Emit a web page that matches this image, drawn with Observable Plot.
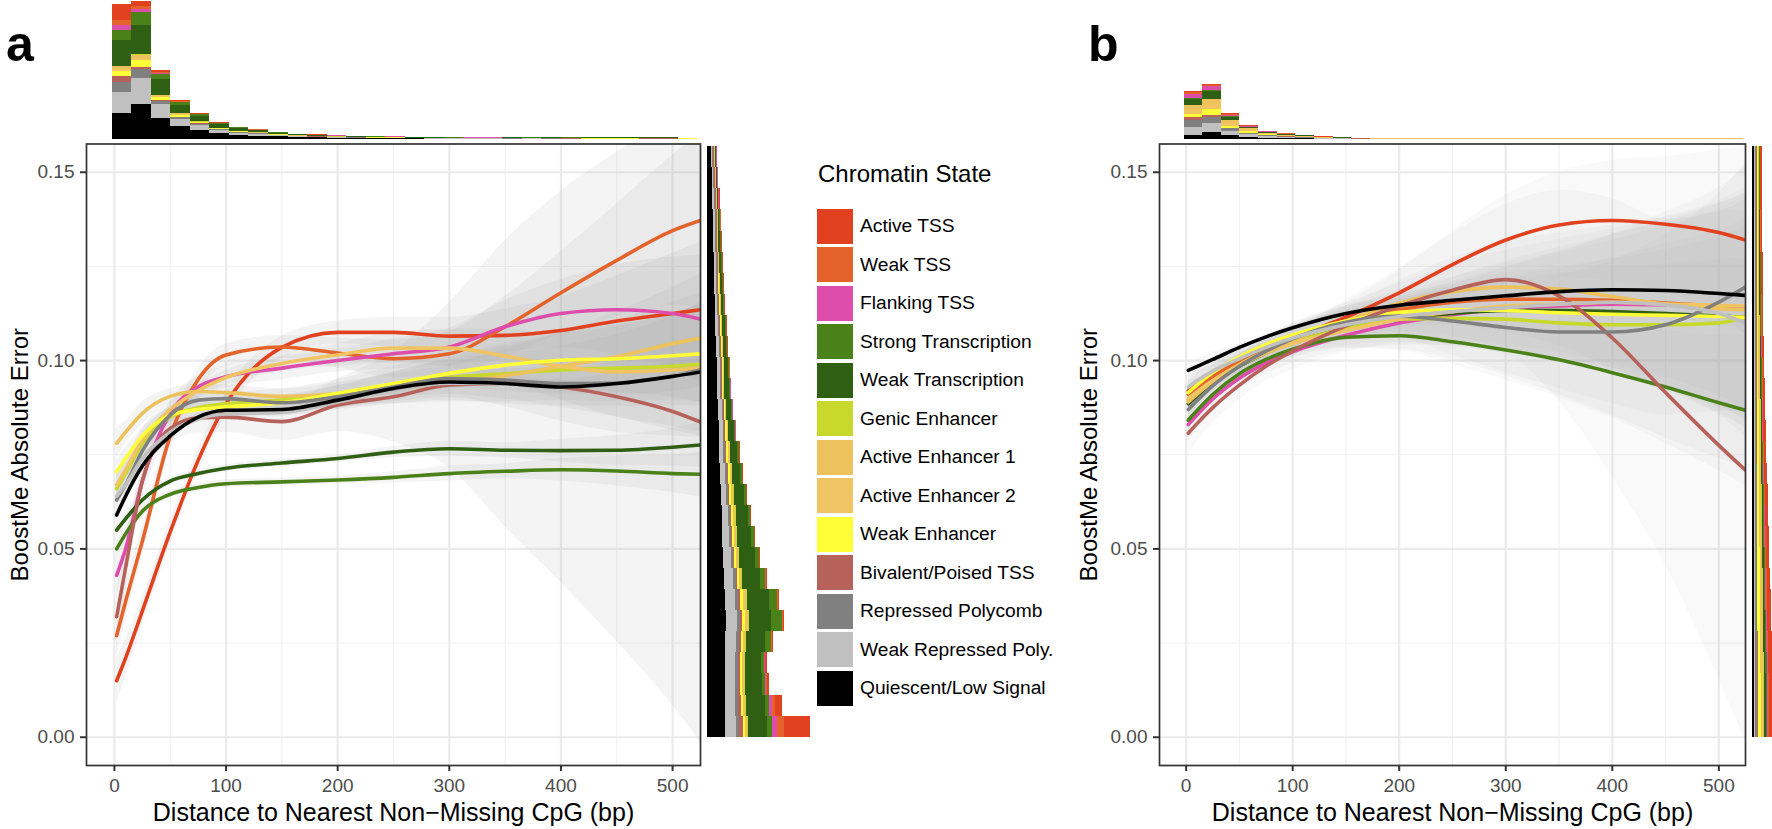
<!DOCTYPE html>
<html><head><meta charset="utf-8">
<script src="https://cdn.jsdelivr.net/npm/d3@7"></script>
<script src="https://cdn.jsdelivr.net/npm/@observablehq/plot@0.6"></script>
<style>
body{margin:0;background:#fff;}
#root{position:relative;width:1772px;height:829px;overflow:hidden;font-family:"Liberation Sans",Arial,Helvetica,sans-serif;}
#root svg{position:absolute;}
.plabel{position:absolute;font-weight:bold;font-size:50px;line-height:1;color:#000;}
#legend{position:absolute;left:817px;top:162px;}
#legend .ttl{font-size:24px;line-height:1;color:#000;margin-left:1px;height:45px;}
#legend .row{display:flex;align-items:center;height:38.5px;}
#legend .key{width:36px;height:35px;margin-right:7px;}
#legend .lab{font-size:19.2px;color:#000;}
</style></head><body><div id="root"></div><script>
// ---------------- DATA ----------------
const states = ["Active TSS","Weak TSS","Flanking TSS","Strong Transcription","Weak Transcription","Genic Enhancer","Active Enhancer 1","Active Enhancer 2","Weak Enhancer","Bivalent/Poised TSS","Repressed Polycomb","Weak Repressed Poly.","Quiescent/Low Signal"];
const stateColors = ["#E2411F","#E4632A","#DE4DAB","#4B8119","#2F5F13","#C8D92C","#EDC15B","#F0C462","#FFFF38","#B6625B","#808080","#C0C0C0","#000000"];

const xTicks = [0,100,200,300,400,500];
const xMinor = [50,150,250,350,450];
const yTicks = [0,0.05,0.10,0.15];
const yMinor = [0.025,0.075,0.125];

// smoothed-curve knots (distance, bp)
const knots = [2,10,25,50,75,100,150,200,250,300,350,400,450,500,525];

// panel a: fitted error per state (rows in legend order)
const meanA = [
 [0.015,0.021,0.0335,0.0545,0.0735,0.0885,0.1035,0.1075,0.1075,0.1065,0.1067,0.108,0.1105,0.1125,0.1135],
 [0.027,0.036,0.052,0.080,0.095,0.1015,0.1036,0.102,0.1005,0.1018,0.109,0.118,0.1266,0.1345,0.1372],
 [0.043,0.050,0.068,0.086,0.093,0.0957,0.098,0.100,0.1018,0.1036,0.109,0.1125,0.1135,0.1125,0.111],
 [0.050,0.054,0.060,0.0645,0.0663,0.0673,0.0678,0.0683,0.069,0.070,0.0706,0.071,0.0707,0.070,0.0698],
 [0.055,0.058,0.063,0.068,0.070,0.0714,0.0728,0.074,0.0757,0.0766,0.0762,0.0761,0.0762,0.077,0.0776],
 [0.066,0.070,0.078,0.085,0.0875,0.0885,0.0895,0.091,0.0935,0.0955,0.0965,0.0975,0.098,0.0985,0.099],
 [0.078,0.081,0.086,0.0905,0.0918,0.0915,0.0905,0.0912,0.0925,0.094,0.096,0.0985,0.101,0.1045,0.106],
 [0.067,0.071,0.079,0.087,0.092,0.0955,0.0992,0.1015,0.1033,0.1033,0.1012,0.0985,0.097,0.0975,0.098],
 [0.0705,0.074,0.080,0.0855,0.087,0.0877,0.0888,0.0913,0.0939,0.0966,0.0988,0.1001,0.1005,0.1013,0.1018],
 [0.032,0.045,0.068,0.082,0.0848,0.085,0.0838,0.0882,0.0904,0.0935,0.0939,0.093,0.0904,0.0865,0.0837],
 [0.063,0.067,0.076,0.0855,0.0895,0.0899,0.0888,0.0904,0.093,0.0952,0.0948,0.0939,0.094,0.096,0.0975],
 [0.064,0.067,0.074,0.081,0.0845,0.0858,0.0862,0.089,0.092,0.094,0.0938,0.093,0.0938,0.096,0.097],
 [0.059,0.064,0.072,0.080,0.085,0.0868,0.0870,0.0895,0.0926,0.0943,0.0939,0.093,0.0939,0.0958,0.097]
];
// panel a: half-width of the confidence band
const ciA = [
 [0.006,0.005,0.004,0.003,0.003,0.003,0.003,0.003,0.004,0.005,0.007,0.009,0.012,0.016,0.018],
 [0.006,0.005,0.004,0.003,0.003,0.003,0.003,0.004,0.005,0.006,0.008,0.011,0.015,0.020,0.023],
 [0.005,0.004,0.003,0.003,0.003,0.003,0.003,0.003,0.004,0.005,0.007,0.009,0.012,0.015,0.017],
 [0.002,0.002,0.0015,0.001,0.001,0.001,0.001,0.001,0.0015,0.002,0.002,0.003,0.004,0.005,0.006],
 [0.002,0.002,0.0015,0.001,0.001,0.001,0.001,0.001,0.0015,0.002,0.002,0.003,0.004,0.005,0.006],
 [0.005,0.004,0.003,0.003,0.003,0.003,0.003,0.004,0.005,0.006,0.008,0.010,0.013,0.017,0.019],
 [0.004,0.003,0.003,0.002,0.002,0.002,0.002,0.003,0.004,0.005,0.007,0.009,0.012,0.015,0.017],
 [0.004,0.003,0.003,0.002,0.002,0.002,0.002,0.003,0.004,0.005,0.007,0.009,0.012,0.015,0.017],
 [0.003,0.003,0.002,0.002,0.002,0.002,0.002,0.002,0.003,0.004,0.005,0.007,0.009,0.011,0.013],
 [0.008,0.006,0.005,0.004,0.004,0.004,0.005,0.007,0.012,0.022,0.038,0.052,0.065,0.078,0.085],
 [0.003,0.003,0.002,0.002,0.002,0.002,0.002,0.003,0.004,0.005,0.007,0.010,0.013,0.016,0.018],
 [0.002,0.002,0.002,0.001,0.001,0.001,0.001,0.002,0.002,0.003,0.004,0.005,0.006,0.008,0.009],
 [0.001,0.001,0.001,0.001,0.001,0.001,0.001,0.001,0.001,0.0015,0.002,0.002,0.003,0.004,0.004]
];
// panel b: fitted error per state
const meanB = [
 [0.092,0.0935,0.096,0.0998,0.103,0.106,0.1115,0.118,0.1255,0.132,0.136,0.1372,0.1362,0.134,0.132],
 [0.091,0.0928,0.0958,0.100,0.1033,0.106,0.1102,0.1135,0.1155,0.1163,0.1163,0.116,0.1153,0.1145,0.114],
 [0.083,0.0855,0.0898,0.0953,0.0993,0.1023,0.1067,0.110,0.1122,0.1138,0.1145,0.115,0.1148,0.1143,0.114],
 [0.0842,0.0867,0.091,0.0965,0.1003,0.103,0.1062,0.1066,0.105,0.1028,0.1002,0.0968,0.093,0.0888,0.0868],
 [0.0885,0.0905,0.094,0.0985,0.102,0.1047,0.1085,0.111,0.1125,0.1133,0.1133,0.113,0.1125,0.1118,0.1115],
 [0.0895,0.0913,0.0945,0.0988,0.1022,0.1048,0.1085,0.111,0.1112,0.111,0.110,0.1095,0.1095,0.110,0.1115],
 [0.089,0.091,0.0945,0.099,0.1025,0.1055,0.1105,0.1152,0.1183,0.1195,0.119,0.117,0.115,0.1138,0.1135],
 [0.090,0.0917,0.0947,0.0987,0.102,0.1045,0.108,0.111,0.113,0.1145,0.115,0.1155,0.115,0.1147,0.1145],
 [0.0915,0.0935,0.0968,0.101,0.1043,0.1068,0.1105,0.1128,0.1135,0.1133,0.1127,0.1123,0.112,0.1117,0.1115],
 [0.0807,0.0832,0.0875,0.0935,0.0985,0.1025,0.1092,0.1145,0.1187,0.1215,0.1172,0.106,0.0915,0.0775,0.0709],
 [0.087,0.0893,0.0933,0.0985,0.1025,0.1058,0.1102,0.1118,0.1105,0.1088,0.1076,0.1076,0.1095,0.1155,0.1195],
 [0.093,0.0946,0.0972,0.1005,0.1035,0.106,0.1095,0.1117,0.113,0.114,0.115,0.1155,0.1148,0.1125,0.110],
 [0.0974,0.0984,0.1003,0.1035,0.1063,0.1087,0.1125,0.1147,0.1160,0.1172,0.1183,0.1188,0.1186,0.1178,0.1173]
];
const ciB = [
 [0.004,0.004,0.003,0.003,0.003,0.003,0.004,0.006,0.009,0.012,0.014,0.016,0.018,0.022,0.025],
 [0.004,0.004,0.003,0.003,0.003,0.004,0.005,0.007,0.010,0.013,0.016,0.019,0.023,0.028,0.032],
 [0.004,0.004,0.003,0.003,0.003,0.003,0.004,0.006,0.008,0.011,0.014,0.017,0.021,0.026,0.030],
 [0.003,0.003,0.002,0.002,0.002,0.002,0.003,0.004,0.006,0.008,0.010,0.012,0.015,0.018,0.020],
 [0.003,0.003,0.002,0.002,0.002,0.002,0.003,0.005,0.007,0.009,0.011,0.014,0.017,0.021,0.024],
 [0.005,0.004,0.004,0.003,0.003,0.004,0.005,0.008,0.011,0.015,0.019,0.024,0.030,0.036,0.040],
 [0.004,0.003,0.003,0.003,0.003,0.003,0.004,0.006,0.009,0.012,0.015,0.019,0.023,0.028,0.031],
 [0.004,0.003,0.003,0.003,0.003,0.003,0.004,0.006,0.009,0.012,0.015,0.018,0.022,0.027,0.030],
 [0.003,0.003,0.003,0.002,0.002,0.003,0.004,0.005,0.007,0.010,0.012,0.015,0.019,0.023,0.026],
 [0.006,0.005,0.004,0.004,0.004,0.005,0.007,0.010,0.015,0.020,0.028,0.037,0.046,0.062,0.072],
 [0.004,0.003,0.003,0.003,0.003,0.003,0.004,0.006,0.009,0.012,0.015,0.019,0.024,0.029,0.033],
 [0.003,0.003,0.003,0.002,0.002,0.003,0.004,0.005,0.008,0.011,0.014,0.018,0.022,0.027,0.030],
 [0.002,0.002,0.002,0.001,0.001,0.001,0.002,0.002,0.003,0.004,0.005,0.006,0.007,0.009,0.010]
];

// marginal histogram bins
const distBinEdges = [-2,15.5,33,50.5,68,85.5,103,120.5,138,155.5,173,190.5,208,225.5,243,260.5,278,295.5,313,330.5,348,365.5,383,400.5,418,435.5,453,470.5,488,505.5,523];
const errBinEdges = [0,0.0056,0.0112,0.0168,0.0224,0.028,0.0336,0.0392,0.0448,0.0504,0.056,0.0616,0.0672,0.0728,0.0784,0.084,0.0896,0.0952,0.1008,0.1064,0.112,0.1176,0.1232,0.1288,0.1344,0.14,0.1456,0.1512,0.1568];

// panel a, top histogram counts (per distance bin, relative units)
const topCountsA = [
 [16,5,2,0.9,0.5,0.5,0.3,0.2,0.2,0.1,0.1,0.1,0.1,0.1,0.1,0.1,0.1,0.1,0.1,0.1,0.1,0.1,0.1,0.1,0.1,0.1,0.1,0.1,0.1,0.1],
 [5.7,2.3,0.5,0.3,0.2,0.2,0.2,0.1,0.1,0.1,0.1,0.1,0.1,0.1,0.1,0.1,0.1,0.1,0.1,0.1,0.1,0.1,0.1,0.1,0.1,0.1,0.1,0.1,0.1,0.1],
 [5,3.7,1,0.5,0.3,0.3,0.2,0.2,0.1,0.1,0.1,0.1,0.1,0.1,0.1,0.1,0.1,0.1,0.1,0.1,0,0,0,0,0,0,0,0,0,0],
 [10,12.3,5,2.7,1.7,1,0.7,0.7,0.7,0.4,0.3,0.3,0.2,0.2,0.2,0.1,0.1,0.1,0.1,0.1,0.1,0.1,0.1,0.5,0.5,0.1,0.1,0.1,0.1,0.1],
 [25.3,29.3,16,8.3,5.7,3.3,2.7,1.7,1.3,1,0.8,0.6,0.5,0.4,0.4,0.3,0.3,0.2,0.2,0.2,0.2,0.2,0.2,0.3,0.3,0.2,0.2,0.2,0.2,0.2],
 [0.7,0.7,0.3,0.2,0.1,0.1,0.1,0.1,0.1,0.1,0.1,0.1,0.1,0.1,0.1,0.1,0.1,0.1,0.1,0.1,0.1,0.1,0.1,0.1,0.1,0.1,0.1,0.1,0.1,0.1],
 [2.3,3,1.1,0.6,0.3,0.3,0.2,0.2,0.1,0.1,0.1,0.1,0.1,0.1,0.1,0.1,0.1,0.1,0.1,0.1,0.1,0.1,0.1,0.1,0.4,0.4,0.4,0.1,0.1,0.1],
 [2.3,2.7,1.2,0.7,0.4,0.3,0.2,0.2,0.1,0.1,0.1,0.1,0.1,0.1,0.1,0.1,0.1,0.1,0.1,0.1,0.1,0.1,0.1,0.1,0.4,0.4,0.4,0.1,0.1,0.1],
 [5.3,6.7,3.3,2,1.2,0.8,0.7,0.5,0.5,0.3,0.3,0.2,0.2,0.2,0.2,0.1,0.1,0.1,0.1,0.1,0.1,0.1,0.5,0.1,0.1,0.1,0.1,0.1,0.1,0.1],
 [5.7,1.7,0.7,0.5,0.3,0.2,0.2,0.2,0.1,0.1,0.1,0.1,0.1,0.1,0.1,0.1,0.1,0.1,0.1,0.1,0.1,0.1,0.1,0.1,0.1,0.1,0.1,0.6,0.6,0.1],
 [10,9.3,3.3,2.3,1.7,1,0.7,0.7,0.3,0.3,0.3,0.2,0.2,0.2,0.2,0.1,0.1,0.1,0.1,0.1,0.4,0.1,0.1,0.1,0.1,0.1,0.1,0.1,0.1,0.1],
 [20.7,25.7,13.3,7,4.3,2.7,2,1.7,1,0.8,0.6,0.5,0.4,0.3,0.3,0.2,0.2,0.2,0.2,0.2,0.2,0.4,0.2,0.1,0.1,0.1,0.1,0.1,0.1,0.1],
 [26.3,35.3,21.3,12.7,9.3,6,4.3,3.3,2.7,2,1.6,1.3,1,0.9,0.8,0.6,0.5,0.5,0.4,0.4,0.3,0.3,0.3,0.3,0.2,0.2,0.2,0.2,0.2,0.2]
];
// panel b, top histogram counts
const topCountsB = [
 [1,1,1.3,0.9,0.6,0.4,0.5,0.3,0.2,0.2,0.15,0.15,0.1,0.1,0.1,0.1,0.1,0.1,0.1,0.1,0.1,0.1,0.1,0.1,0.1,0.1,0.1,0.1,0.1,0.1],
 [1.7,1.3,0.5,0.2,0.1,0.1,0.1,0.1,0.05,0.05,0.05,0.05,0.05,0.05,0.05,0.05,0.05,0.05,0.05,0.05,0.05,0.05,0.05,0.05,0.05,0.05,0.05,0.05,0.05,0.05],
 [4.3,4,1.5,0.5,0.3,0.3,0.1,0.1,0.05,0.05,0.05,0.05,0.05,0.05,0.05,0.05,0.05,0.05,0.05,0.05,0.05,0.05,0.05,0.05,0.05,0.05,0.05,0.05,0.05,0.05],
 [0.5,1,0.7,0.3,0.2,0.1,0.05,0.05,0.05,0.05,0.05,0.05,0.05,0.05,0.05,0.05,0.05,0.05,0.05,0.05,0.05,0.05,0.05,0.05,0.05,0.05,0.05,0.05,0.05,0.05],
 [5.7,7.7,3.3,1.3,0.8,0.6,0.4,0.2,0.2,0.1,0.05,0.05,0.05,0.05,0.05,0.05,0.05,0.05,0.05,0.05,0.05,0.05,0.05,0.05,0.05,0.05,0.05,0.05,0.05,0.05],
 [0.5,0.5,0.2,0.1,0.05,0.05,0.05,0.05,0.05,0.05,0.05,0.05,0.05,0.05,0.05,0.05,0.05,0.05,0.05,0.05,0.05,0.05,0.05,0.05,0.05,0.05,0.05,0.05,0.05,0.05],
 [4.5,5,2.6,1.3,0.8,0.6,0.4,0.25,0.2,0.15,0.1,0.1,0.1,0.1,0.1,0.1,0.1,0.1,0.1,0.1,0.1,0.1,0.1,0.1,0.1,0.1,0.1,0.1,0.1,0.1],
 [4.5,5,2.7,1.4,0.8,0.6,0.4,0.25,0.2,0.15,0.1,0.1,0.1,0.1,0.1,0.1,0.1,0.1,0.1,0.1,0.1,0.1,0.1,0.1,0.1,0.1,0.1,0.1,0.1,0.1],
 [3.3,5.7,2.3,1.7,1,0.7,0.5,0.3,0.2,0.1,0.05,0.05,0.05,0.05,0.05,0.05,0.05,0.05,0.05,0.05,0.05,0.05,0.05,0.05,0.05,0.05,0.05,0.05,0.05,0.05],
 [2.7,1.7,0.3,0.1,0.05,0.05,0.05,0.05,0.05,0.05,0.05,0.05,0.05,0.05,0.05,0.05,0.05,0.05,0.05,0.05,0.05,0.05,0.05,0.05,0.05,0.05,0.05,0.05,0.05,0.05],
 [6.7,6,2.7,1.3,0.8,0.5,0.4,0.2,0.1,0.1,0.05,0.05,0.05,0.05,0.05,0.05,0.05,0.05,0.05,0.05,0.05,0.05,0.05,0.05,0.05,0.05,0.05,0.05,0.05,0.05],
 [8.3,9,4,2.7,1.5,1,0.7,0.4,0.3,0.2,0.1,0.1,0.1,0.1,0.1,0.1,0.1,0.1,0.1,0.1,0.1,0.1,0.1,0.1,0.1,0.1,0.1,0.1,0.1,0.1],
 [4,7.3,4,2.3,1.5,1,0.7,0.4,0.3,0.2,0.1,0.1,0.1,0.1,0.1,0.1,0.1,0.1,0.1,0.1,0.1,0.1,0.1,0.1,0.1,0.1,0.1,0.1,0.1,0.1]
];
// panel a, right histogram counts (per error bin, bottom to top)
const rightCountsA = [
 [26,7,2,1.5,1,1,1,1,1,1,0.8,0.8,0.8,0.8,0.5,0.5,0.5,0.5,0.5,0.5,0.5,0.5,0.5,0.5,0.5,0.5,0.5,0.5],
 [7,3,1,0.5,0.5,0.5,0.5,0.5,0.3,0.3,0.3,0.3,0.3,0.3,0.3,0.3,0.3,0.3,0.3,0.3,0.3,0.3,0.3,0.3,0.3,0.3,0.3,0.3],
 [5,3,1,1,0.5,0.5,0.5,0.5,0.5,0.3,0.3,0.3,0.3,0.3,0.3,0.3,0.3,0.3,0.3,0.3,0.3,0.3,0.3,0.3,0.3,0.3,0.3,0.3],
 [5,4,3,3,6,11,8,5,4,3,2,2,1.5,1.5,1.5,1,1,0.7,0.7,0.7,0.5,0.5,0.5,0.5,0.5,0.5,0.3,0.3],
 [19,19,17,16,19,22,22,18,16,14,12,10,8,7,6,5,5,4,3,3,2.5,2.5,2,2,1.5,1,1,1],
 [0.5,0.5,0.5,0.5,0.5,0.5,0.5,0.5,0.5,0.5,0.5,0.5,0.5,0.5,0.3,0.3,0.3,0.3,0.3,0.3,0.3,0.3,0.3,0.3,0.3,0.3,0.3,0.3],
 [1,1,1,1,1,1.5,1.5,1,1,1,1,1,1,1,0.5,0.5,0.5,0.5,0.5,0.5,0.5,0.5,0.5,0.5,0.3,0.3,0.3,0.3],
 [1,1,1,1,1,1.5,1.5,1,1,1,1,1,1,1,0.5,0.5,0.5,0.5,0.5,0.5,0.5,0.5,0.5,0.5,0.3,0.3,0.3,0.3],
 [2,2,2,2,2,3,3,2,2,2,2,2,1.5,1.5,1.5,1,1,1,1,1,1,1,0.5,0.5,0.5,0.5,0.5,0.5],
 [4,3,2,2,2,2,2,1,1,1,1,1,1,1,1,1,1,1,0.5,0.5,0.5,0.5,0.5,0.5,0.5,0.5,0.5,0.5],
 [3,3,3,3,3,3,3,3,2,2,2,2,2,2,1,1,1,1,1,1,1,1,1,1,1,1,1,1],
 [11,10,10,10,11,11,10,9,8,7,6,5,5,4,4,4,3,3,3,3,2,2,2,2,2,2,1,1],
 [18,18,18,18,18,19,18,17,16,15,15,14,13,12,12,11,10,10,9,8,8,7,7,6,6,5,5,4]
];
// panel b, right histogram counts
const rightCountsB = [
 [5,4.8,4.5,4.3,4,3.8,3.6,3.4,3.2,3,2.8,2.7,2.5,2.4,2.3,2.2,2,1.9,1.8,1.7,1.6,1.5,1.5,1.4,1.4,1.3,1.3,1.3],
 [1,1,0.9,0.9,0.8,0.8,0.8,0.7,0.7,0.7,0.6,0.6,0.6,0.5,0.5,0.5,0.5,0.4,0.4,0.4,0.4,0.3,0.3,0.3,0.3,0.3,0.3,0.3],
 [1,1,0.9,0.9,0.9,0.8,0.8,0.8,0.7,0.7,0.6,0.6,0.6,0.5,0.5,0.5,0.5,0.4,0.4,0.4,0.4,0.3,0.3,0.3,0.3,0.3,0.3,0.3],
 [1.3,1.3,1.2,1.2,1.1,1.1,1,1,1,0.9,0.9,0.8,0.8,0.8,0.7,0.7,0.6,0.6,0.6,0.5,0.5,0.5,0.5,0.4,0.4,0.4,0.4,0.4],
 [2,2,1.9,1.9,1.8,1.7,1.6,1.5,1.5,1.4,1.3,1.3,1.2,1.1,1.1,1,1,0.9,0.9,0.8,0.8,0.8,0.7,0.7,0.7,0.6,0.6,0.6],
 [0.4,0.4,0.4,0.4,0.4,0.4,0.4,0.4,0.4,0.4,0.4,0.4,0.4,0.4,0.4,0.4,0.4,0.4,0.4,0.4,0.4,0.4,0.4,0.4,0.4,0.4,0.4,0.4],
 [1.5,1.5,1.4,1.4,1.3,1.3,1.2,1.2,1.1,1.1,1,1,0.9,0.9,0.8,0.8,0.7,0.7,0.6,0.6,0.5,0.5,0.5,0.4,0.4,0.3,0.3,0.3],
 [1.5,1.5,1.4,1.4,1.3,1.3,1.2,1.2,1.1,1.1,1,1,0.9,0.9,0.8,0.8,0.7,0.7,0.6,0.6,0.5,0.5,0.5,0.4,0.4,0.3,0.3,0.3],
 [3,3,2.9,2.8,2.7,2.6,2.5,2.4,2.3,2.2,2.1,2,1.9,1.8,1.7,1.6,1.5,1.5,1.4,1.3,1.3,1.2,1.2,1.1,1.1,1,1,1],
 [0.5,0.5,0.5,0.5,0.5,0.5,0.5,0.5,0.5,0.5,0.5,0.5,0.5,0.5,0.5,0.5,0.5,0.5,0.5,0.5,0.5,0.5,0.5,0.5,0.5,0.5,0.5,0.5],
 [1.8,1.8,1.8,1.8,1.8,1.7,1.7,1.7,1.7,1.7,1.7,1.6,1.6,1.6,1.6,1.6,1.6,1.6,1.5,1.5,1.5,1.5,1.5,1.5,1.5,1.5,1.5,1.5],
 [1.6,1.6,1.6,1.5,1.5,1.5,1.5,1.5,1.4,1.4,1.4,1.4,1.4,1.3,1.3,1.3,1.3,1.3,1.3,1.2,1.2,1.2,1.2,1.2,1.2,1.2,1.2,1.2],
 [1.7,1.7,1.7,1.7,1.7,1.7,1.7,1.6,1.6,1.6,1.6,1.6,1.5,1.5,1.5,1.5,1.5,1.5,1.5,1.5,1.5,1.5,1.5,1.5,1.5,1.5,1.5,1.5]
];

const xTitle = "Distance to Nearest Non\u2212Missing CpG (bp)";
const yTitle = "BoostMe Absolute Error";
const legendTitle = "Chromatin State";

// ---------------- DRAWING ----------------
const FONT = "Liberation Sans, Arial, Helvetica, sans-serif";
const root = document.getElementById("root");
const colorScale = {domain: states, range: stateColors, legend: false};
const X_DOMAIN = [-25, 525];
const Y_DOMAIN = [-0.0075, 0.1575];
const TOP = 143.5, BOTTOM = 64, H = 829;

function place(svg, left, top) {
  svg.style.left = left + "px";
  svg.style.top = top + "px";
  root.appendChild(svg);
}

function curveRows(means, cis) {
  const rows = [];
  states.forEach((s, i) => knots.forEach((k, j) => {
    rows.push({state: s, x: k, y: means[i][j], lo: means[i][j] - cis[i][j], hi: means[i][j] + cis[i][j]});
  }));
  return rows;
}

function mainPanel(means, cis, width, mLeft, mRight, titleDx, bandOpacity) {
  const rows = curveRows(means, cis);
  return Plot.plot({
    width, height: H, marginLeft: mLeft, marginRight: mRight, marginTop: TOP, marginBottom: BOTTOM,
    style: {background: "transparent", fontFamily: FONT, overflow: "visible"},
    x: {domain: X_DOMAIN}, y: {domain: Y_DOMAIN},
    color: colorScale,
    marks: [
      Plot.gridX(xMinor, {stroke: "#f2f2f2", strokeOpacity: 1, strokeWidth: 1.2}),
      Plot.gridY(yMinor, {stroke: "#f2f2f2", strokeOpacity: 1, strokeWidth: 1.2}),
      Plot.gridX(xTicks, {stroke: "#ebebeb", strokeOpacity: 1, strokeWidth: 2.2}),
      Plot.gridY(yTicks, {stroke: "#ebebeb", strokeOpacity: 1, strokeWidth: 2.2}),
      Plot.areaY(rows, {x: "x", y1: "lo", y2: "hi", z: "state", fill: "#a8a8a8", fillOpacity: bandOpacity, curve: "monotone-x", clip: true}),
      Plot.line(rows, {x: "x", y: "y", z: "state", stroke: "state", strokeWidth: 3.6, curve: "monotone-x", clip: true}),
      Plot.frame({stroke: "#333", strokeWidth: 1.7}),
      Plot.axisX(xTicks, {tickSize: 6, tickPadding: 7, strokeWidth: 2, stroke: "#333", fill: "#4d4d4d", fontSize: 19, label: null}),
      Plot.axisY(yTicks, {tickSize: 6, tickPadding: 6, strokeWidth: 2, stroke: "#333", fill: "#4d4d4d", fontSize: 19, label: null, tickFormat: d3.format(".2f")}),
      Plot.text([xTitle], {frameAnchor: "bottom", lineAnchor: "middle", dy: 47, fontSize: 25, fill: "#000"}),
      Plot.text([yTitle], {frameAnchor: "left", textAnchor: "middle", lineAnchor: "middle", rotate: -90, dx: titleDx, fontSize: 24, fill: "#000"})
    ]
  });
}

function stackTop(counts) {
  const rows = [];
  for (let b = 0; b < distBinEdges.length - 1; b++) {
    let acc = 0;
    for (let i = states.length - 1; i >= 0; i--) {
      const c = counts[i][b] || 0;
      if (c > 0) rows.push({state: states[i], x1: distBinEdges[b], x2: distBinEdges[b + 1], y1: acc, y2: acc + c});
      acc += c;
    }
  }
  return rows;
}
function stackRight(counts) {
  const rows = [];
  for (let b = 0; b < errBinEdges.length - 1; b++) {
    let acc = 0;
    for (let i = states.length - 1; i >= 0; i--) {
      const c = counts[i][b] || 0;
      if (c > 0) rows.push({state: states[i], y1: errBinEdges[b], y2: errBinEdges[b + 1], x1: acc, x2: acc + c});
      acc += c;
    }
  }
  return rows;
}

function topHist(counts, width, mLeft, mRight) {
  return Plot.plot({
    width, height: 140, marginLeft: mLeft, marginRight: mRight, marginTop: 0, marginBottom: 1,
    style: {background: "transparent"},
    x: {domain: X_DOMAIN, axis: null}, y: {domain: [0, 139], axis: null},
    color: colorScale,
    marks: [Plot.rect(stackTop(counts), {x1: "x1", x2: "x2", y1: "y1", y2: "y2", fill: "state", shapeRendering: "crispEdges"})]
  });
}

function rightHist(counts, width, mLeft, mRight, maxCount) {
  return Plot.plot({
    width, height: H, marginLeft: mLeft, marginRight: mRight, marginTop: TOP, marginBottom: BOTTOM,
    style: {background: "transparent"},
    x: {domain: [0, maxCount], axis: null}, y: {domain: Y_DOMAIN, axis: null},
    color: colorScale,
    marks: [Plot.rect(stackRight(counts), {x1: "x1", x2: "x2", y1: "y1", y2: "y2", fill: "state", shapeRendering: "crispEdges"})]
  });
}

// panel a
place(mainPanel(meanA, ciA, 710, 86, 10, -66, 0.12), 0, 0);
place(topHist(topCountsA, 710, 86, 10), 0, 0);
place(rightHist(rightCountsA, 120, 7, 10, 103), 700, 0);
// panel b
place(mainPanel(meanB, ciB, 700, 99, 15, -70, 0.075), 1060, 0);
place(topHist(topCountsB, 700, 99, 15), 1060, 0);
place(rightHist(rightCountsB, 27, 7, 0, 20), 1745, 0);

// panel tags
for (const [t, l] of [["a", 6], ["b", 1088]]) {
  const d = document.createElement("div");
  d.className = "plabel"; d.textContent = t;
  d.style.left = l + "px"; d.style.top = "19px";
  root.appendChild(d);
}

// legend
const lg = document.createElement("div");
lg.id = "legend";
const tt = document.createElement("div"); tt.className = "ttl"; tt.textContent = legendTitle; lg.appendChild(tt);
states.forEach((s, i) => {
  const r = document.createElement("div"); r.className = "row";
  const k = document.createElement("div"); k.className = "key"; k.style.background = stateColors[i];
  const t = document.createElement("div"); t.className = "lab"; t.textContent = s;
  r.appendChild(k); r.appendChild(t); lg.appendChild(r);
});
root.appendChild(lg);
</script></body></html>
